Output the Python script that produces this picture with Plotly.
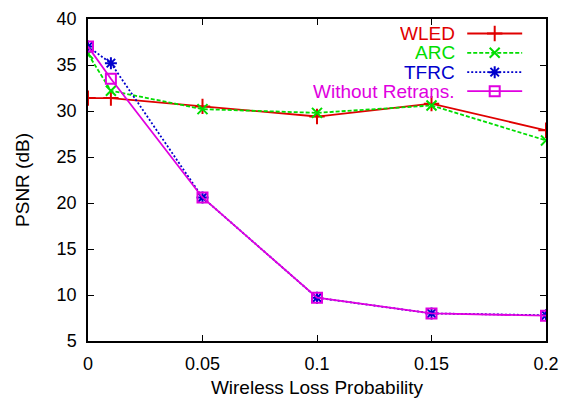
import plotly.graph_objects as go

loss_prob = [0, 0.01, 0.05, 0.1, 0.15, 0.2]
wled = [31.4, 31.4, 30.5, 29.4, 30.8, 27.9]
arc = [36.2, 32.2, 30.2, 29.8, 30.6, 26.8]
tfrc = [37.0, 35.2, 20.6, 9.7, 8.0, 7.8]
without = [37.0, 33.5, 20.6, 9.7, 8.0, 7.75]

series_names = ["WLED", "ARC", "TFRC", "Without Retrans."]
colors = ["#e00000", "#00dd00", "#0000cc", "#e000e0"]
dashes = ["solid", "4px,2px", "2px,2px", "solid"]
symbols = ["cross-thin", "x-thin", "asterisk", "square-open"]
msizes = [11, 10, 10, 10]
xticks = [0, 0.05, 0.1, 0.15, 0.2]
xticklabels = ["0", "0.05", "0.1", "0.15", "0.2"]
yticks = [5, 10, 15, 20, 25, 30, 35, 40]

FONT = "Liberation Sans, Arial, sans-serif"

fig = go.Figure()
data = [wled, arc, tfrc, without]
for name, ys, c, d, s, ms in zip(series_names, data, colors, dashes, symbols, msizes):
    fig.add_trace(go.Scatter(
        x=loss_prob, y=ys, mode="lines+markers", name=name,
        line=dict(color=c, width=1.8, dash=d),
        marker=dict(symbol=s, size=ms, color=c, line=dict(color=c, width=2)),
        showlegend=False,
    ))

# manual legend (text left of sample, gnuplot style)
leg_y = [0.955, 0.895, 0.835, 0.776]
for name, c, d, s, ms, ly in zip(series_names, colors, dashes, symbols, msizes, leg_y):
    fig.add_annotation(x=0.804, y=ly, xref="paper", yref="paper",
                       text=name, showarrow=False, xanchor="right",
                       yanchor="middle", height=19, borderpad=0,
                       font=dict(color=c, size=19, family=FONT))
    fig.add_trace(go.Scatter(
        x=[0.828, 0.888, 0.948], y=[ly, ly, ly], xaxis="x2", yaxis="y2",
        mode="lines", line=dict(color=c, width=1.8, dash=d),
        showlegend=False, hoverinfo="skip"))
    fig.add_trace(go.Scatter(
        x=[0.888], y=[ly], xaxis="x2", yaxis="y2", mode="markers",
        marker=dict(symbol=s, size=ms, color=c, line=dict(color=c, width=2)),
        showlegend=False, hoverinfo="skip"))

axis_common = dict(showgrid=False, zeroline=False, ticks="inside", ticklen=6,
                   tickcolor="black", showline=True, linecolor="black",
                   linewidth=1.5, mirror="ticks", automargin=False,
                   tickfont=dict(size=18, family=FONT, color="black"))

fig.update_layout(
    width=563, height=398,
    margin=dict(l=88, r=17, t=19, b=57),
    paper_bgcolor="white", plot_bgcolor="white",
    xaxis=dict(range=[0, 0.2], tickvals=xticks, ticktext=xticklabels,
               ticklabelstandoff=6,
               title=dict(text="Wireless Loss Probability", standoff=10,
                          font=dict(size=19, family=FONT, color="black")),
               **axis_common),
    yaxis=dict(range=[5, 40], tickvals=yticks, ticklabelstandoff=6,
               title=dict(text="PSNR (dB)", standoff=22,
                          font=dict(size=19, family=FONT, color="black")),
               **axis_common),
    xaxis2=dict(range=[0, 1], overlaying="x", visible=False, domain=[0, 1],
                automargin=False),
    yaxis2=dict(range=[0, 1], overlaying="y", visible=False, automargin=False),
    showlegend=False,
)

fig.write_html("out.html")
